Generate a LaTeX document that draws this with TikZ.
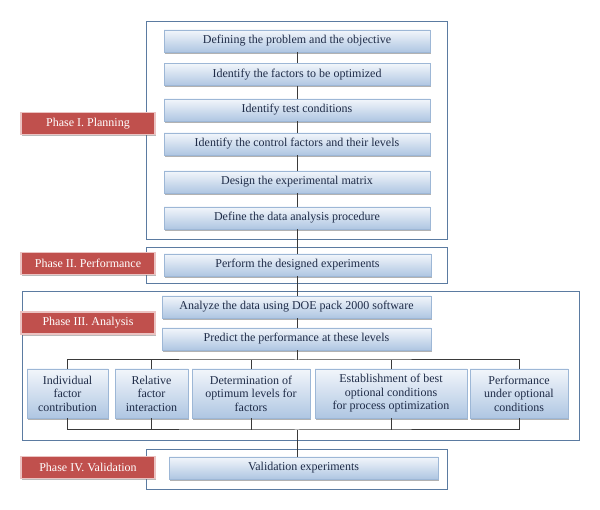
\documentclass[tikz,border=0pt]{standalone}
\usepackage{fontspec}
\setmainfont{Liberation Serif}
\usetikzlibrary{shadows}
\definecolor{frameblue}{HTML}{5B7BA1}
\definecolor{boxtop}{HTML}{F2F6FB}
\definecolor{boxbot}{HTML}{AFC6E2}
\definecolor{boxline}{HTML}{9DB7D6}
\definecolor{navytext}{HTML}{1F2C48}
\definecolor{phasered}{HTML}{C0504D}
\definecolor{phaseline}{HTML}{EBC3C2}
\definecolor{linkgrey}{HTML}{3A3A3A}
\tikzset{
  frame/.style={draw=frameblue, line width=0.8pt},
  stepbox/.style={draw=boxline, line width=0.5pt, top color=boxtop, bottom color=boxbot,
    text=navytext, font=\fontsize{12}{13.5}\selectfont, inner sep=0pt, minimum height=22pt,
    drop shadow={shadow xshift=0.6pt, shadow yshift=-1.6pt, opacity=0.55, fill=black!55}},
  tallbox/.style={stepbox, minimum height=49pt, align=center, font=\fontsize{12}{13.5}\selectfont},
  phase/.style={draw=phaseline, line width=1.2pt, fill=phasered, text=white,
    font=\fontsize{12}{13.5}\selectfont, inner sep=0pt, minimum width=134pt, minimum height=22pt,
    drop shadow={shadow xshift=1.2pt, shadow yshift=-1.6pt, opacity=0.45, fill=black!60}},
  link/.style={draw=linkgrey, line width=1pt}
}
\begin{document}
\begin{tikzpicture}[x=1pt,y=-1pt]
\useasboundingbox (0,0) rectangle (600,510);
% phase frames
\draw[frame] (146,21) rectangle (447,239);
\draw[frame] (146,247) rectangle (447,283);
\draw[frame] (22,291) rectangle (579,440);
\draw[frame] (146,449) rectangle (447,489);
% junction coordinates
\coordinate (jt) at (297,360);
\coordinate (jb) at (297,430);
% planning steps
\node[stepbox, minimum width=266pt] (b1) at (297,41) {Defining the problem and the objective};
\node[stepbox, minimum width=266pt] (b2) at (297,74.5) {Identify the factors to be optimized};
\node[stepbox, minimum width=266pt] (b3) at (297,110) {Identify test conditions};
\node[stepbox, minimum width=266pt] (b4) at (297,144) {Identify the control factors and their levels};
\node[stepbox, minimum width=266pt] (b5) at (297,182) {Design the experimental matrix};
\node[stepbox, minimum width=266pt] (b6) at (297,218) {Define the data analysis procedure};
% performance
\node[stepbox, minimum width=267pt] (perf) at (297.5,265) {Perform the designed experiments};
% analysis
\node[stepbox, minimum width=269pt] (anal) at (296.5,307) {Analyze the data using DOE pack 2000 software};
\node[stepbox, minimum width=269pt] (pred) at (296.5,339) {Predict the performance at these levels};
\node[tallbox, minimum width=81pt] (c1) at (67.5,393.5) {Individual\\factor\\contribution};
\node[tallbox, minimum width=73pt] (c2) at (151.5,393.5) {Relative\\factor\\interaction};
\node[tallbox, minimum width=118pt] (c3) at (251,393.5) {Determination of\\optimum levels for\\factors};
\node[tallbox, minimum width=152pt] (c4) at (391,393.5) {Establishment of best\\optional conditions\\for process optimization};
\node[tallbox, minimum width=98pt] (c5) at (519,393.5) {Performance\\under optional\\conditions};
% validation
\node[stepbox, minimum width=269pt] (val) at (303.5,468) {Validation experiments};
% connectors
\draw[link] (b1) -- (b2);
\draw[link] (b2) -- (b3);
\draw[link] (b3) -- (b4);
\draw[link] (b4) -- (b5);
\draw[link] (b5) -- (b6);
\draw[link] (b6.south -| jt) -- (perf.north -| jt);
\draw[link] (perf.south -| jt) -- (anal.north -| jt);
\draw[link] (anal.south -| jt) -- (pred.north -| jt);
\draw[link] (pred.south -| jt) -- (jt);
\draw[link] (c1.north) |- (jt) -| (c5.north);
\draw[link] (c2.north) -- (c2.north |- jt);
\draw[link] (c3.north) -- (c3.north |- jt);
\draw[link] (c4.north) -- (c4.north |- jt);
\draw[link] (c1.south) |- (jb) -| (c5.south);
\draw[link] (c2.south) -- (c2.south |- jb);
\draw[link] (c3.south) -- (c3.south |- jb);
\draw[link] (c4.south) -- (c4.south |- jb);
\draw[link] (jb) -- (val.north -| jb);
% phase labels
\node[phase] (p1) at (88,123.5) {Phase I. Planning};
\node[phase] (p2) at (88,263.5) {Phase II. Performance};
\node[phase] (p3) at (88,323) {Phase III. Analysis};
\node[phase] (p4) at (88,467.5) {Phase IV. Validation};
\end{tikzpicture}
\end{document}
